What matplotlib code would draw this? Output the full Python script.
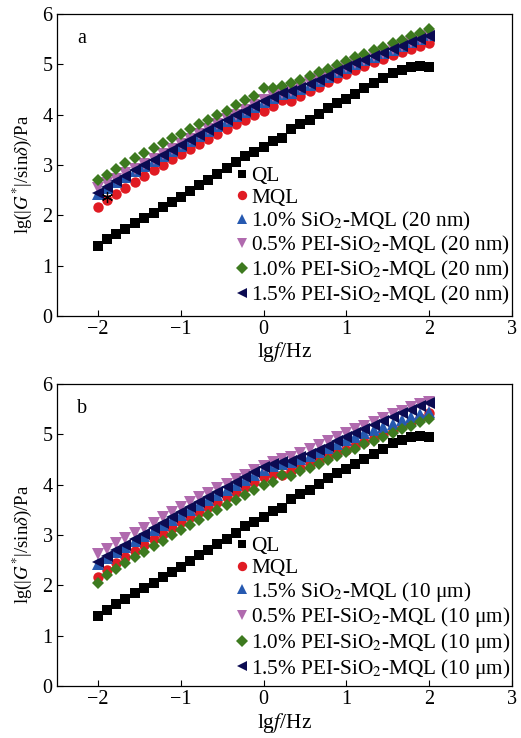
import matplotlib
matplotlib.use("Agg")
import matplotlib.pyplot as plt

plt.rcParams['font.family'] = ['Liberation Serif', 'DejaVu Serif']
plt.rcParams['mathtext.fontset'] = 'stix'

# log frequency, shared by every series
lgf = [-2.00, -1.89, -1.78, -1.67, -1.56, -1.44, -1.33, -1.22, -1.11, -1.00,
       -0.89, -0.78, -0.67, -0.56, -0.44, -0.33, -0.22, -0.11, 0.00, 0.11,
       0.22, 0.33, 0.44, 0.56, 0.67, 0.78, 0.89, 1.00, 1.11, 1.22,
       1.33, 1.44, 1.56, 1.67, 1.78, 1.89, 2.00]

ql = [1.39, 1.52, 1.62, 1.72, 1.84, 1.94, 2.05, 2.16, 2.26, 2.37,
      2.49, 2.60, 2.70, 2.82, 2.93, 3.05, 3.17, 3.26, 3.36, 3.48,
      3.54, 3.71, 3.81, 3.89, 4.01, 4.13, 4.23, 4.32, 4.42, 4.52,
      4.62, 4.72, 4.82, 4.89, 4.95, 4.97, 4.94]

# panel a: 20 nm particles
mql_a = [2.17, 2.30, 2.42, 2.54, 2.66, 2.78, 2.89, 3.00, 3.11, 3.22,
         3.32, 3.42, 3.52, 3.62, 3.72, 3.81, 3.90, 3.99, 4.08, 4.18,
         4.30, 4.28, 4.37, 4.46, 4.55, 4.64, 4.72, 4.80, 4.88, 4.96,
         5.04, 5.11, 5.18, 5.25, 5.31, 5.37, 5.42]
sio2_a = [2.43, 2.55, 2.66, 2.77, 2.88, 2.98, 3.08, 3.18, 3.28, 3.38,
          3.48, 3.58, 3.68, 3.78, 3.88, 3.97, 4.06, 4.16, 4.26, 4.34,
          4.41, 4.44, 4.51, 4.59, 4.67, 4.75, 4.84, 4.92, 5.00, 5.08,
          5.15, 5.22, 5.29, 5.37, 5.44, 5.51, 5.58]
pei05_a = [2.55, 2.64, 2.73, 2.83, 2.92, 3.02, 3.12, 3.22, 3.32, 3.42,
           3.52, 3.62, 3.72, 3.82, 3.91, 4.00, 4.09, 4.19, 4.29, 4.37,
           4.44, 4.47, 4.54, 4.62, 4.70, 4.78, 4.86, 4.94, 5.02, 5.09,
           5.16, 5.23, 5.30, 5.37, 5.44, 5.50, 5.56]
pei10_a = [2.70, 2.81, 2.92, 3.03, 3.13, 3.23, 3.33, 3.43, 3.53, 3.62,
           3.72, 3.81, 3.90, 3.99, 4.08, 4.20, 4.30, 4.38, 4.52, 4.52,
           4.57, 4.62, 4.69, 4.76, 4.84, 4.91, 4.99, 5.07, 5.14, 5.21,
           5.28, 5.35, 5.42, 5.49, 5.56, 5.63, 5.70]
pei15_a = [2.45, 2.57, 2.68, 2.79, 2.90, 3.00, 3.10, 3.20, 3.30, 3.40,
           3.50, 3.60, 3.70, 3.80, 3.90, 3.99, 4.08, 4.18, 4.28, 4.36,
           4.43, 4.46, 4.53, 4.61, 4.69, 4.77, 4.86, 4.94, 5.02, 5.09,
           5.16, 5.23, 5.30, 5.37, 5.44, 5.51, 5.57]

# panel b: 10 um particles
mql_b = [2.17, 2.31, 2.44, 2.56, 2.68, 2.80, 2.92, 3.03, 3.14, 3.25,
         3.35, 3.45, 3.55, 3.65, 3.75, 3.85, 3.95, 4.05, 4.15, 4.22,
         4.20, 4.27, 4.34, 4.41, 4.48, 4.55, 4.63, 4.70, 4.78, 4.85,
         4.93, 5.00, 5.08, 5.16, 5.24, 5.33, 5.42]
sio2_b = [2.42, 2.54, 2.66, 2.77, 2.88, 2.99, 3.10, 3.20, 3.30, 3.40,
          3.50, 3.60, 3.70, 3.80, 3.90, 4.00, 4.10, 4.20, 4.30, 4.37,
          4.42, 4.45, 4.51, 4.58, 4.65, 4.73, 4.80, 4.88, 4.95, 5.02,
          5.09, 5.15, 5.21, 5.28, 5.34, 5.40, 5.45]
pei05_b = [2.62, 2.73, 2.84, 2.94, 3.04, 3.14, 3.24, 3.35, 3.45, 3.55,
           3.65, 3.75, 3.84, 3.93, 4.02, 4.11, 4.20, 4.29, 4.38, 4.45,
           4.51, 4.56, 4.63, 4.71, 4.79, 4.86, 4.94, 5.02, 5.10, 5.17,
           5.25, 5.33, 5.40, 5.47, 5.54, 5.60, 5.65]
pei10_b = [2.05, 2.20, 2.32, 2.44, 2.56, 2.67, 2.78, 2.89, 3.00, 3.10,
           3.20, 3.30, 3.40, 3.50, 3.60, 3.70, 3.80, 3.90, 4.00, 4.05,
           4.20, 4.18, 4.27, 4.34, 4.42, 4.50, 4.57, 4.65, 4.72, 4.80,
           4.87, 4.95, 5.02, 5.10, 5.17, 5.24, 5.30]
pei15_b = [2.47, 2.59, 2.70, 2.81, 2.92, 3.03, 3.14, 3.24, 3.35, 3.45,
           3.55, 3.65, 3.75, 3.85, 3.95, 4.05, 4.15, 4.25, 4.35, 4.41,
           4.46, 4.48, 4.55, 4.62, 4.70, 4.78, 4.86, 4.94, 5.02, 5.10,
           5.18, 5.26, 5.34, 5.42, 5.49, 5.56, 5.62]

labels_a = ['QL', 'MQL', '1.0% SiO$_2$-MQL (20 nm)',
            '0.5% PEI-SiO$_2$-MQL (20 nm)', '1.0% PEI-SiO$_2$-MQL (20 nm)',
            '1.5% PEI-SiO$_2$-MQL (20 nm)']
labels_b = ['QL', 'MQL', '1.5% SiO$_2$-MQL (10 μm)',
            '0.5% PEI-SiO$_2$-MQL (10 μm)', '1.0% PEI-SiO$_2$-MQL (10 μm)',
            '1.5% PEI-SiO$_2$-MQL (10 μm)']

colors = ['black', '#e01b23', '#2659b0', '#b06aae', '#3d7a1f', '#0b0b52']
markers = ['s', 'o', '^', 'v', 'D', '<']
sizes = [6.5, 7.5, 8.5, 8.5, 6.3, 8.5]

fig = plt.figure(figsize=(5.21, 7.38), dpi=100)
ax_a = fig.add_axes([0.109, 0.572, 0.873, 0.409])
ax_b = fig.add_axes([0.109, 0.0705, 0.873, 0.409])

panels = [
    (ax_a, 'a', [ql, mql_a, sio2_a, pei05_a, pei10_a, pei15_a], labels_a),
    (ax_b, 'b', [ql, mql_b, sio2_b, pei05_b, pei10_b, pei15_b], labels_b),
]

for ax, tag, series, labels in panels:
    for y, lab, c, m, s in zip(series, labels, colors, markers, sizes):
        ax.plot(lgf, y, linestyle='none', marker=m, markersize=s,
                color=c, markeredgewidth=0, label=lab)
    ax.set_xlim(-2.5, 3)
    ax.set_ylim(0, 6)
    ax.set_xticks([-2, -1, 0, 1, 2, 3])
    ax.set_xticklabels(['\u22122', '\u22121', '0', '1', '2', '3'])
    ax.set_yticks([0, 1, 2, 3, 4, 5, 6])
    ax.tick_params(direction='in', length=4, width=0.8, labelsize=14.5, pad=3)
    for sp in ax.spines.values():
        sp.set_linewidth(0.9)
    ax.set_xlabel('lg$f$/Hz', fontsize=15.5, labelpad=1)
    ax.set_ylabel('lg(|$G^{*}$|/sin$\\delta$)/Pa', fontsize=13.5)
    ax.yaxis.set_label_coords(-0.05, 0.47)
    ax.text(0.045, 0.92, tag, transform=ax.transAxes, fontsize=14.5,
            ha='left', va='center')
    ax.legend(loc='upper left', bbox_to_anchor=(0.395, 0.495), frameon=False,
              fontsize=15.3, handlelength=0.5, handletextpad=0.2,
              labelspacing=0.08, borderpad=0, borderaxespad=0,
              markerscale=0.9)

# stray asterisk mark near the start of the MQL series
ax_a.plot([-1.89], [2.36], linestyle='none', marker=(6, 2, 0),
          markersize=8, color='black', markeredgewidth=0.9)

fig.savefig('out.png', dpi=100)
